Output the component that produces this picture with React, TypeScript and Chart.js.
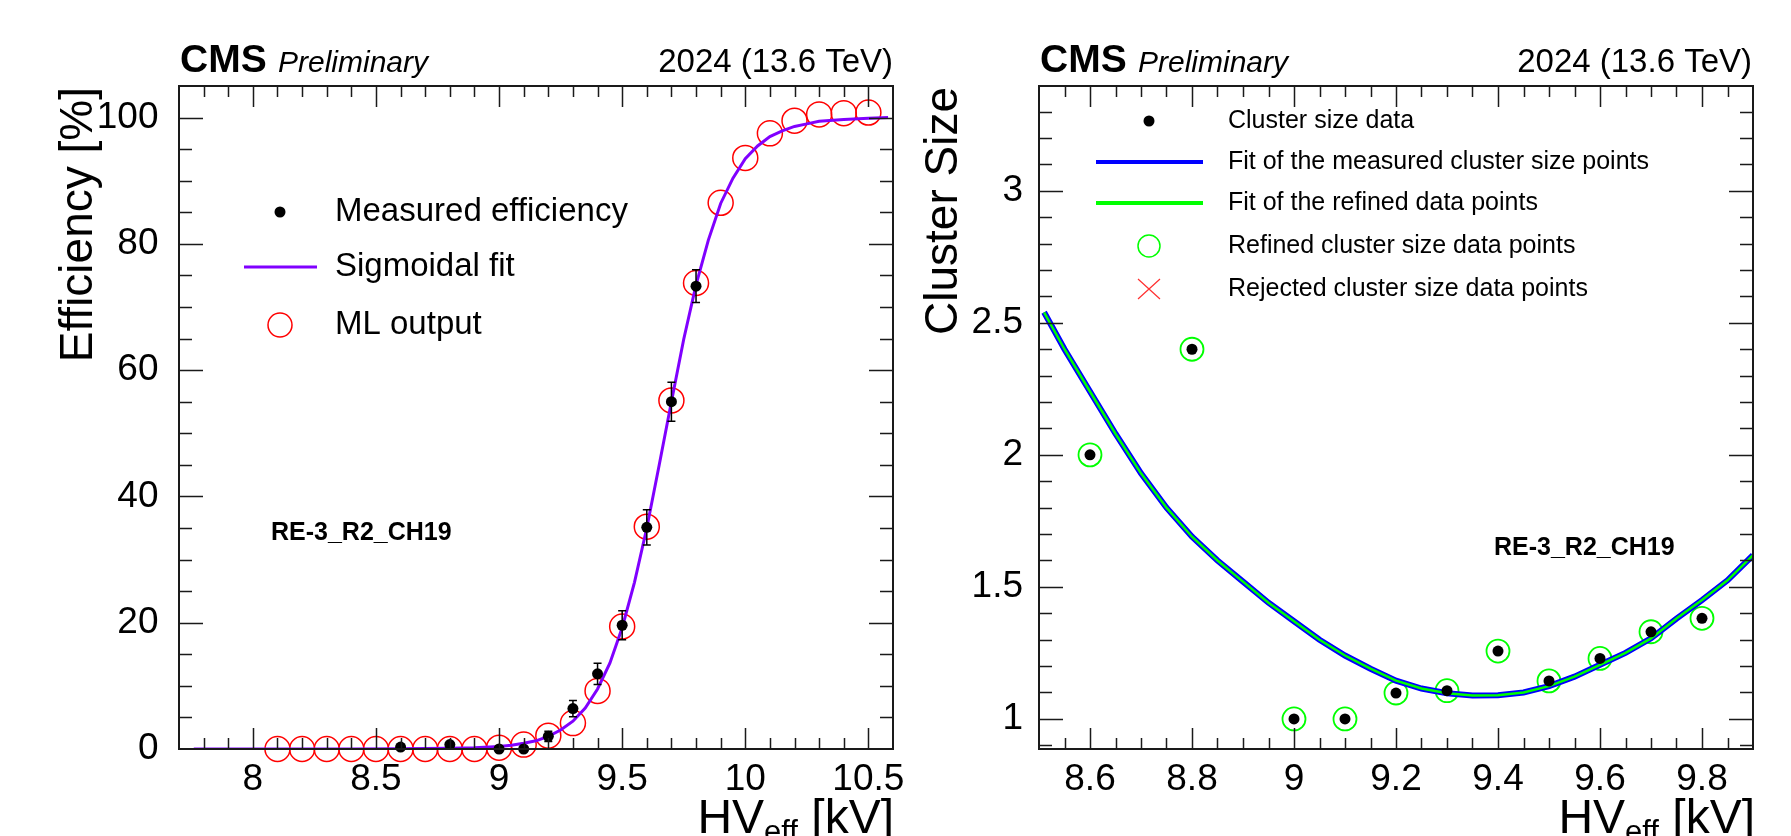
import React, { useEffect, useRef } from "react";
import { Chart, registerables } from "chart.js";
Chart.register(...registerables);

const FONT = "'Liberation Sans', Arial, Helvetica, sans-serif";
Chart.defaults.font.family = FONT;

// ---------------- Left panel: efficiency ----------------
const effHV = [8.6, 8.8, 9.0, 9.1, 9.2, 9.3, 9.4, 9.5, 9.6, 9.7, 9.8];
const effMeasured = [0.3, 0.7, 0.0, 0.0, 2.0, 6.4, 11.9, 19.6, 35.1, 55.0, 73.3];
const effErr = [0.3, 0.3, 0.2, 0.2, 0.8, 1.3, 1.7, 2.3, 2.8, 3.1, 2.6];

const mlHV = [8.1, 8.2, 8.3, 8.4, 8.5, 8.6, 8.7, 8.8, 8.9, 9.0, 9.1, 9.2, 9.3, 9.4, 9.5, 9.6, 9.7, 9.8, 9.9, 10.0, 10.1, 10.2, 10.3, 10.4, 10.5];
const mlEff = [0, 0, 0, 0, 0, 0, 0, 0, 0, 0.2, 0.7, 2.1, 4.1, 9.2, 19.4, 35.2, 55.2, 73.8, 86.5, 93.6, 97.5, 99.5, 100.5, 100.7, 100.8];

const sigHV = [7.76, 8.0, 8.2, 8.4, 8.6, 8.8, 8.9, 9.0, 9.05, 9.1, 9.15, 9.2, 9.25, 9.3, 9.35, 9.4, 9.45, 9.5, 9.55, 9.6, 9.65, 9.7, 9.75, 9.8, 9.85, 9.9, 9.95, 10.0, 10.05, 10.1, 10.15, 10.2, 10.25, 10.3, 10.4, 10.5, 10.58];
const sigEff = [0, 0, 0, 0.01, 0.03, 0.1, 0.2, 0.4, 0.6, 0.9, 1.3, 2.0, 3.0, 4.4, 6.5, 9.5, 13.6, 19.2, 26.4, 35.0, 44.9, 55.0, 64.9, 73.5, 80.6, 86.4, 90.4, 93.5, 95.5, 97.0, 97.9, 98.6, 99.0, 99.4, 99.7, 99.9, 100.0];

const effXTicks = [8, 8.5, 9, 9.5, 10, 10.5];
const effYTicks = [0, 20, 40, 60, 80, 100];

// ---------------- Right panel: cluster size ----------------
const csHV = [8.6, 8.8, 9.0, 9.1, 9.2, 9.3, 9.4, 9.5, 9.6, 9.7, 9.8];
const csData = [2.0, 2.4, 1.0, 1.0, 1.098, 1.107, 1.257, 1.144, 1.229, 1.33, 1.381];
const csRefined = [2.0, 2.4, 1.0, 1.0, 1.098, 1.107, 1.257, 1.144, 1.229, 1.33, 1.381];

const csFitHV = [8.51, 8.55, 8.6, 8.65, 8.7, 8.75, 8.8, 8.85, 8.9, 8.95, 9.0, 9.05, 9.1, 9.15, 9.2, 9.25, 9.3, 9.35, 9.4, 9.45, 9.5, 9.55, 9.6, 9.65, 9.7, 9.75, 9.8, 9.85, 9.9];
const csFitMeasured = [2.54, 2.4, 2.24, 2.08, 1.93, 1.8, 1.69, 1.6, 1.52, 1.44, 1.37, 1.3, 1.24, 1.19, 1.145, 1.115, 1.097, 1.089, 1.09, 1.1, 1.124, 1.16, 1.205, 1.25, 1.305, 1.38, 1.45, 1.525, 1.62];
const csFitRefined = [2.54, 2.4, 2.24, 2.08, 1.93, 1.8, 1.69, 1.6, 1.52, 1.44, 1.37, 1.3, 1.24, 1.19, 1.145, 1.115, 1.097, 1.089, 1.09, 1.1, 1.124, 1.16, 1.205, 1.25, 1.305, 1.38, 1.45, 1.525, 1.62];

const csXTicks = [8.6, 8.8, 9, 9.2, 9.4, 9.6, 9.8];
const csYTicks = [1, 1.5, 2, 2.5, 3];

const toXY = (xs: number[], ys: number[]) => xs.map((x, i) => ({ x, y: ys[i] }));

// ---------------- drawing helpers ----------------
function drawFrameAndTicks(chart: any, xMinor: number, xMajor: number, yMinor: number, yMajor: number) {
  const { ctx, chartArea: a } = chart;
  const xs = chart.scales.x, ys = chart.scales.y;
  const eps = 1e-6;
  const loop = (min: number, max: number, step: number, major: number, fn: (v: number, m: boolean) => void) => {
    const k0 = Math.ceil(min / step - eps), k1 = Math.floor(max / step + eps);
    for (let k = k0; k <= k1; k++) {
      const v = k * step;
      const r = v / major;
      fn(v, Math.abs(r - Math.round(r)) < 1e-6);
    }
  };
  ctx.save();
  ctx.strokeStyle = "#1a1a1a";
  ctx.lineWidth = 1.5;
  ctx.beginPath();
  loop(xs.min, xs.max, xMinor, xMajor, (v, maj) => {
    const p = Math.round(xs.getPixelForValue(v)) + 0.5;
    if (p <= a.left + 1 || p >= a.right - 1) return;
    const L = maj ? 21 : 11;
    ctx.moveTo(p, a.bottom); ctx.lineTo(p, a.bottom - L);
    ctx.moveTo(p, a.top); ctx.lineTo(p, a.top + L);
  });
  loop(ys.min, ys.max, yMinor, yMajor, (v, maj) => {
    const p = Math.round(ys.getPixelForValue(v)) + 0.5;
    if (p <= a.top + 1 || p >= a.bottom - 1) return;
    const L = maj ? 24 : 13;
    ctx.moveTo(a.left, p); ctx.lineTo(a.left + L, p);
    ctx.moveTo(a.right, p); ctx.lineTo(a.right - L, p);
  });
  ctx.stroke();
  ctx.lineWidth = 2;
  ctx.strokeRect(a.left, a.top, a.right - a.left, a.bottom - a.top);
  ctx.restore();
}

function drawHeader(ctx: CanvasRenderingContext2D, left: number, right: number, base: number) {
  ctx.save();
  ctx.fillStyle = "#000";
  ctx.textBaseline = "alphabetic";
  ctx.textAlign = "left";
  ctx.font = `bold 39px ${FONT}`;
  ctx.fillText("CMS", left, base);
  ctx.font = `italic 30px ${FONT}`;
  ctx.fillText("Preliminary", left + 98, base);
  ctx.font = `33px ${FONT}`;
  ctx.textAlign = "right";
  ctx.fillText("2024 (13.6 TeV)", right, base);
  ctx.restore();
}

function drawXTitle(ctx: CanvasRenderingContext2D, rightX: number, base: number) {
  ctx.save();
  ctx.fillStyle = "#000";
  ctx.textAlign = "left";
  ctx.textBaseline = "alphabetic";
  ctx.font = `48px ${FONT}`;
  const wHV = ctx.measureText("HV").width;
  const wRest = ctx.measureText(" [kV]").width;
  ctx.font = `31px ${FONT}`;
  const wEff = ctx.measureText("eff").width;
  const x0 = rightX - (wHV + wEff + wRest);
  ctx.font = `48px ${FONT}`;
  ctx.fillText("HV", x0, base);
  ctx.fillText(" [kV]", x0 + wHV + wEff, base);
  ctx.font = `31px ${FONT}`;
  ctx.fillText("eff", x0 + wHV, base + 9);
  ctx.restore();
}

function drawYTitle(ctx: CanvasRenderingContext2D, text: string, baseX: number, endY: number) {
  ctx.save();
  ctx.fillStyle = "#000";
  ctx.translate(baseX, endY);
  ctx.rotate(-Math.PI / 2);
  ctx.textAlign = "right";
  ctx.textBaseline = "alphabetic";
  ctx.font = `46px ${FONT}`;
  ctx.fillText(text, 0, 0);
  ctx.restore();
}

function dot(ctx: CanvasRenderingContext2D, x: number, y: number, r: number, color: string) {
  ctx.beginPath(); ctx.arc(x, y, r, 0, Math.PI * 2); ctx.fillStyle = color; ctx.fill();
}
function ring(ctx: CanvasRenderingContext2D, x: number, y: number, r: number, color: string, w: number) {
  ctx.beginPath(); ctx.arc(x, y, r, 0, Math.PI * 2); ctx.strokeStyle = color; ctx.lineWidth = w; ctx.stroke();
}
function seg(ctx: CanvasRenderingContext2D, x1: number, x2: number, y: number, color: string, w: number) {
  ctx.beginPath(); ctx.moveTo(x1, y); ctx.lineTo(x2, y); ctx.strokeStyle = color; ctx.lineWidth = w; ctx.stroke();
}
function label(ctx: CanvasRenderingContext2D, text: string, x: number, y: number, font: string) {
  ctx.fillStyle = "#000"; ctx.font = font; ctx.textAlign = "left"; ctx.textBaseline = "middle"; ctx.fillText(text, x, y);
}

function baseOptions(padRight: number, yWidth: number, xHeight: number, xmin: number, xmax: number, ymin: number, ymax: number, xt: number[], yt: number[], xPad: number, yPad: number) {
  const tickFont = { size: 37, family: FONT };
  return {
    responsive: false,
    animation: false as const,
    devicePixelRatio: 1,
    events: [] as any[],
    layout: { autoPadding: false, padding: { left: 0, top: 86, right: padRight, bottom: 0 } },
    plugins: { legend: { display: false }, tooltip: { enabled: false } },
    scales: {
      x: {
        type: "linear" as const, min: xmin, max: xmax,
        grid: { display: false }, border: { display: false },
        ticks: { font: tickFont, color: "#000", padding: xPad, maxRotation: 0, minRotation: 0, autoSkip: false, callback: (v: any) => String(v) },
        afterBuildTicks: (s: any) => { s.ticks = xt.map((v) => ({ value: v })); },
        afterFit: (s: any) => { s.height = xHeight; s.paddingLeft = 0; s.paddingRight = 0; },
      },
      y: {
        type: "linear" as const, min: ymin, max: ymax,
        grid: { display: false }, border: { display: false },
        ticks: { font: tickFont, color: "#000", padding: yPad, autoSkip: false, callback: (v: any) => String(v) },
        afterBuildTicks: (s: any) => { s.ticks = yt.map((v) => ({ value: v })); },
        afterFit: (s: any) => { s.width = yWidth; s.paddingTop = 0; s.paddingBottom = 0; },
      },
    },
  };
}

function buildEfficiency(canvas: HTMLCanvasElement) {
  const decor = {
    id: "effDecor",
    beforeDatasetDraw(chart: any, args: any) {
      if (args.index !== 0) return;
      const ctx = chart.ctx, xs = chart.scales.x, ys = chart.scales.y;
      ctx.save();
      ctx.strokeStyle = "#000";
      ctx.lineWidth = 1.5;
      ctx.beginPath();
      effHV.forEach((hv, i) => {
        const px = xs.getPixelForValue(hv);
        const y1 = ys.getPixelForValue(effMeasured[i] - effErr[i]);
        const y2 = ys.getPixelForValue(effMeasured[i] + effErr[i]);
        ctx.moveTo(px, y1); ctx.lineTo(px, y2);
        ctx.moveTo(px - 4, y1); ctx.lineTo(px + 4, y1);
        ctx.moveTo(px - 4, y2); ctx.lineTo(px + 4, y2);
      });
      ctx.stroke();
      ctx.restore();
    },
    afterDraw(chart: any) {
      const ctx = chart.ctx as CanvasRenderingContext2D;
      const a = chart.chartArea;
      drawFrameAndTicks(chart, 0.1, 0.5, 5, 20);
      drawHeader(ctx, a.left + 1, a.right, 72);
      ctx.save();
      ctx.fillStyle = "#000";
      ctx.font = `bold 25px ${FONT}`;
      ctx.textAlign = "left";
      ctx.textBaseline = "alphabetic";
      ctx.fillText("RE-3_R2_CH19", 271, 540);
      // legend
      dot(ctx, 280, 212, 5.5, "#000");
      label(ctx, "Measured efficiency", 335, 212, `33px ${FONT}`);
      seg(ctx, 244, 317, 267, "#8000ff", 3);
      label(ctx, "Sigmoidal fit", 335, 267, `33px ${FONT}`);
      ring(ctx, 280, 325, 12, "#ff0000", 1.5);
      label(ctx, "ML output", 335, 325, `33px ${FONT}`);
      ctx.restore();
      drawXTitle(ctx, 894, 833);
      drawYTitle(ctx, "Efficiency [%]", 92, 87);
    },
  };
  return new Chart(canvas, {
    type: "scatter",
    data: {
      datasets: [
        { label: "Measured efficiency", data: toXY(effHV, effMeasured), pointRadius: 5.5, pointBackgroundColor: "#000", pointBorderWidth: 0, order: 0, clip: false } as any,
        { label: "Sigmoidal fit", data: toXY(sigHV, sigEff), showLine: true, borderColor: "#8000ff", borderWidth: 3, pointRadius: 0, tension: 0, order: 1 },
        { label: "ML output", data: toXY(mlHV, mlEff), pointRadius: 12.5, pointBackgroundColor: "rgba(0,0,0,0)", pointBorderColor: "#ff0000", pointBorderWidth: 1.5, order: 2, clip: false },
      ],
    },
    options: baseOptions(67, 179, 87, 7.7, 10.6, 0, 105, effXTicks, effYTicks, 1, 12.5) as any,
    plugins: [decor],
  });
}

function buildCluster(canvas: HTMLCanvasElement) {
  const decor = {
    id: "csDecor",
    afterDraw(chart: any) {
      const ctx = chart.ctx as CanvasRenderingContext2D;
      const a = chart.chartArea;
      drawFrameAndTicks(chart, 0.05, 0.2, 0.1, 0.5);
      drawHeader(ctx, a.left + 1, a.right - 1, 72);
      ctx.save();
      ctx.fillStyle = "#000";
      ctx.font = `bold 25px ${FONT}`;
      ctx.textAlign = "left";
      ctx.textBaseline = "alphabetic";
      ctx.fillText("RE-3_R2_CH19", 594, 555);
      const f = `25px ${FONT}`;
      dot(ctx, 249, 121, 5.5, "#000");
      label(ctx, "Cluster size data", 328, 121, f);
      seg(ctx, 196, 303, 162, "#0000ff", 4);
      label(ctx, "Fit of the measured cluster size points", 328, 162, f);
      seg(ctx, 196, 303, 203, "#00ff00", 4);
      label(ctx, "Fit of the refined data points", 328, 203, f);
      ring(ctx, 249, 246, 11, "#00ff00", 1.5);
      label(ctx, "Refined cluster size data points", 328, 246, f);
      ctx.beginPath();
      ctx.moveTo(238, 279); ctx.lineTo(260, 299);
      ctx.moveTo(260, 279); ctx.lineTo(238, 299);
      ctx.strokeStyle = "#ff3030"; ctx.lineWidth = 1.2; ctx.stroke();
      label(ctx, "Rejected cluster size data points", 328, 289, f);
      ctx.restore();
      drawXTitle(ctx, 855, 833);
      drawYTitle(ctx, "Cluster Size", 57, 87);
    },
  };
  return new Chart(canvas, {
    type: "scatter",
    data: {
      datasets: [
        { label: "Cluster size data", data: toXY(csHV, csData), pointRadius: 5.5, pointBackgroundColor: "#000", pointBorderWidth: 0, order: 0, clip: false } as any,
        { label: "Fit of the refined data points", data: toXY(csFitHV, csFitRefined), showLine: true, borderColor: "#00ff00", borderWidth: 2.5, pointRadius: 0, tension: 0, order: 1 },
        { label: "Fit of the measured cluster size points", data: toXY(csFitHV, csFitMeasured), showLine: true, borderColor: "#0000ff", borderWidth: 6, pointRadius: 0, tension: 0, order: 2 },
        { label: "Refined cluster size data points", data: toXY(csHV, csRefined), pointRadius: 11.5, pointBackgroundColor: "rgba(0,0,0,0)", pointBorderColor: "#00ff00", pointBorderWidth: 1.8, order: 3, clip: false },
      ],
    },
    options: baseOptions(38, 139, 87, 8.5, 9.9, 0.886, 3.397, csXTicks, csYTicks, 1, 8) as any,
    plugins: [decor],
  });
}

function Panel({ left, width, build }: { left: number; width: number; build: (c: HTMLCanvasElement) => Chart }) {
  const ref = useRef<HTMLCanvasElement>(null);
  useEffect(() => {
    const chart = build(ref.current as HTMLCanvasElement);
    return () => chart.destroy();
  }, []);
  return <canvas ref={ref} width={width} height={836} style={{ position: "absolute", left, top: 0, width, height: 836 }} />;
}

export default function App() {
  return (
    <div style={{ position: "fixed", left: 0, top: 0, width: 1791, height: 836, background: "#fff", overflow: "hidden" }}>
      <Panel left={0} width={960} build={buildEfficiency} />
      <Panel left={900} width={891} build={buildCluster} />
    </div>
  );
}
